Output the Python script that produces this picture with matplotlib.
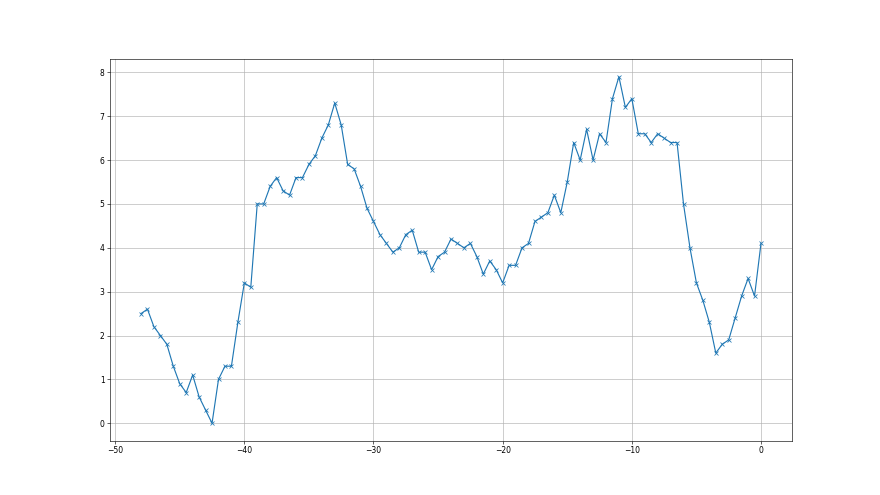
import numpy as np
import matplotlib
matplotlib.use('Agg')
import matplotlib.pyplot as plt

x_vals = np.arange(-48, 0.01, 0.5)
y_vals = [2.5, 2.6, 2.2, 2.0, 1.8, 1.3, 0.9, 0.7, 1.1, 0.6, 0.3, 0.0,
          1.0, 1.3, 1.3, 2.3, 3.2, 3.1, 5.0, 5.0, 5.4, 5.6, 5.3, 5.2,
          5.6, 5.6, 5.9, 6.1, 6.5, 6.8, 7.3, 6.8, 5.9, 5.8, 5.4, 4.9,
          4.6, 4.3, 4.1, 3.9, 4.0, 4.3, 4.4, 3.9, 3.9, 3.5, 3.8, 3.9,
          4.2, 4.1, 4.0, 4.1, 3.8, 3.4, 3.7, 3.5, 3.2, 3.6, 3.6, 4.0,
          4.1, 4.6, 4.7, 4.8, 5.2, 4.8, 5.5, 6.4, 6.0, 6.7, 6.0, 6.6,
          6.4, 7.4, 7.9, 7.2, 7.4, 6.6, 6.6, 6.4, 6.6, 6.5, 6.4, 6.4,
          5.0, 4.0, 3.2, 2.8, 2.3, 1.6, 1.8, 1.9, 2.4, 2.9, 3.3, 2.9,
          4.1]

fig, ax = plt.subplots(figsize=(16, 9), dpi=55)
ax.plot(x_vals, y_vals, marker='x', color='tab:blue')
ax.grid(True)

plt.savefig('out.png')
